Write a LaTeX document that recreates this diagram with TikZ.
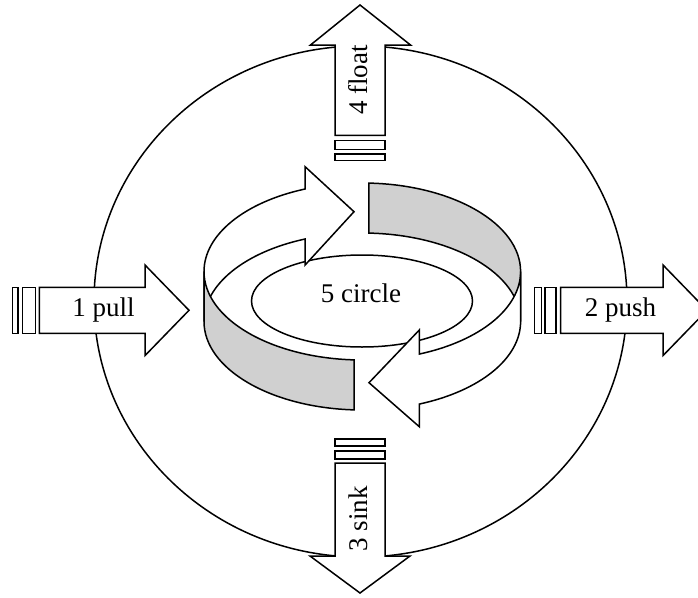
\documentclass[tikz,border=0pt]{standalone}
\usepackage{fontspec}
\setmainfont{Liberation Serif}
\definecolor{bandgray}{RGB}{208,208,208}
\tikzset{
  outl/.style={draw=black, line width=1.5pt, line join=miter, fill=white},
  grayface/.style={draw=black, line width=1.5pt, line join=miter, fill=bandgray},
  lbl/.style={font=\fontsize{27}{27}\selectfont, inner sep=0pt}
}
\begin{document}
\begin{tikzpicture}[x=1pt,y=1pt]
\useasboundingbox (0,0) rectangle (698,-597);
\clip (0,0) rectangle (698,-597);
% big circle
\draw[line width=1.5pt] (360.5,-301.5) ellipse [x radius=266.5, y radius=255.5];
% 1 pull
\draw[outl] (12.7,-287.3) rectangle (18,-333.3);
\draw[outl] (22.7,-287.3) rectangle (35.3,-333.3);
\draw[outl] (39.3,-287.3) -- (145,-287.3) -- (145,-265) -- (189,-310.3) -- (145,-355.6) -- (145,-333.3) -- (39.3,-333.3) -- cycle;
\node[lbl] (pull) at (103.5,-310) {1 pull};
% 2 push
\draw[outl] (534.5,-287.3) rectangle (541.5,-333.3);
\draw[outl] (545,-287.3) rectangle (556,-333.3);
\draw[outl] (560.7,-287.3) -- (663,-287.3) -- (663,-265) -- (707,-310.3) -- (663,-355.6) -- (663,-333.3) -- (560.7,-333.3) -- cycle;
\node[lbl] (push) at (620.5,-310) {2 push};
% 4 float
\draw[outl] (335,-154) rectangle (385,-160.7);
\draw[outl] (335,-140.7) rectangle (385,-149.3);
\draw[outl] (335,-135.3) -- (335,-45) -- (310.5,-45) -- (360,-5) -- (410.5,-45) -- (385,-45) -- (385,-135.3) -- cycle;
\node[lbl, rotate=90] (float) at (358,-80) {4 float};
% 3 sink
\draw[outl] (335,-439) rectangle (385,-446);
\draw[outl] (335,-451) rectangle (385,-459);
\draw[outl] (335,-463) -- (335,-556) -- (310,-556) -- (360,-593) -- (410,-556) -- (385,-556) -- (385,-463) -- cycle;
\node[lbl, rotate=90] (sink) at (358,-519) {3 sink};
% inner ellipse
\draw[line width=1.5pt] (362,-301) ellipse [x radius=110.5, y radius=46];
\node[lbl] (circ) at (361,-293) {5 circle};
% ribbon
\coordinate (T) at (362.3,-271.5);
\coordinate (B) at (362.3,-321.5);
% back white arrow
\draw[outl] ([shift={(T)}]180:158.3 and 88.5) arc[start angle=180, end angle=111.2, x radius=158.3, y radius=88.5]
  -- (305.1,-166.7) -- (354,-211.7) -- (305.1,-265) -- ([shift={(B)}]111.2:158.3 and 88.5)
  arc[start angle=111.2, end angle=180, x radius=158.3, y radius=88.5] -- cycle;
% back gray right
\draw[grayface] ([shift={(T)}]87.6:158.3 and 88.5) arc[start angle=87.6, end angle=0, x radius=158.3, y radius=88.5]
  -- ([shift={(B)}]0:158.3 and 88.5) arc[start angle=0, end angle=87.6, x radius=158.3, y radius=88.5] -- cycle;
% front gray left
\draw[grayface] ([shift={(T)}]180:158.3 and 88.5) arc[start angle=180, end angle=267, x radius=158.3, y radius=88.5]
  -- ([shift={(B)}]267:158.3 and 88.5) arc[start angle=267, end angle=180, x radius=158.3, y radius=88.5] -- cycle;
% front white arrow
\draw[outl] ([shift={(T)}]360:158.3 and 88.5) arc[start angle=360, end angle=291.1, x radius=158.3, y radius=88.5]
  -- (419.3,-330) -- (369,-382.7) -- (419.3,-426.7) -- ([shift={(B)}]291.1:158.3 and 88.5)
  arc[start angle=291.1, end angle=360, x radius=158.3, y radius=88.5] -- cycle;
\end{tikzpicture}
\end{document}
